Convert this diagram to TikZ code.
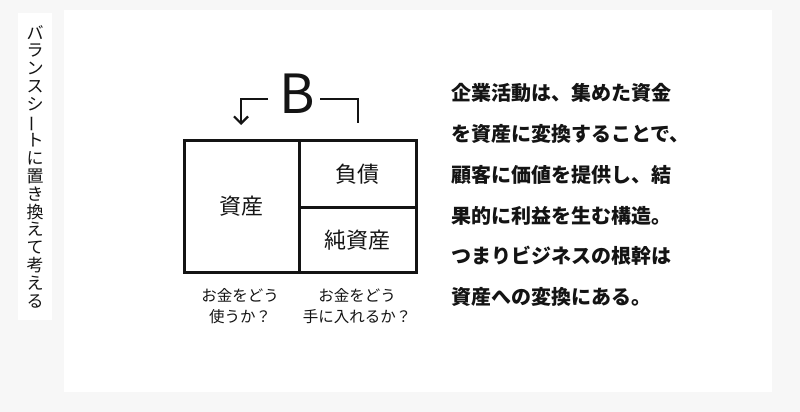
\documentclass[tikz,border=0pt]{standalone}
\usepackage{fontspec}
\usepackage{graphicx}
\usepackage{xcolor}
\usepackage{tikz}
\usetikzlibrary{arrows.meta, positioning}
\setmainfont{Noto Sans CJK JP}
\definecolor{pagegray}{RGB}{247,247,247}
\definecolor{inkblack}{RGB}{20,20,20}

\begin{document}
\begin{tikzpicture}[x=1pt, y=-1pt, every node/.style={text=inkblack, inner sep=0pt}]
            \useasboundingbox (0,0) rectangle (800,412);
            \fill[pagegray] (0,0) rectangle (800,412);
            \fill[white] (64,10) rectangle (772,392);
            % side title
            \node[fill=white, minimum width=34pt, minimum height=307pt] (sidebox) at (35,166.5) {};
            \node[align=center, font=\fontsize{17}{17.8}\selectfont] (sidetitle) at (sidebox.center) {
                バ\\ラ\\ン\\ス\\シ\\\rotatebox[origin=c]{90}{ー}\\ト\\に\\置\\き\\換\\え\\て\\考\\え\\る
            };
            % balance sheet
            \node[draw=inkblack, line width=2.6pt, minimum width=115pt, minimum height=132pt, anchor=north west,
                font=\fontsize{22}{22}\selectfont] (assets) at (183,139) {資産};
            \node[draw=inkblack, line width=2.6pt, minimum width=117pt, minimum height=67pt, anchor=north west,
                font=\fontsize{22}{22}\selectfont] (debt) at (298,139) {負債};
            \node[draw=inkblack, line width=2.6pt, minimum width=117pt, minimum height=65pt, anchor=north west,
                font=\fontsize{22}{22}\selectfont] (equity) at (298,206) {純資産};
            \node[font=\fontsize{54}{54}\selectfont] (bal) at (297,94) {B};
            \coordinate (lstart) at (268,99);
            \coordinate (ltip) at (241,125);
            \coordinate (rstart) at (320,99);
            \coordinate (rend) at (358,123);
            \draw[inkblack, line width=2.2pt, -{Straight Barb[length=7pt, width=14pt]}] (lstart) -| (ltip);
            \draw[inkblack, line width=2.2pt] (rstart) -| (rend);
            % questions
            \node[align=center, font=\fontsize{15.5}{21}\selectfont] (useq) at (240,306.5) {お金をどう\\使うか？};
            \node[align=center, font=\fontsize{15.5}{21}\selectfont] (getq) at (357,306.5) {お金をどう\\手に入れるか？};
            % message
            \node[align=left, anchor=west, font=\bfseries\fontsize{20}{40.8}\selectfont] (msg) at (451,195) {
                企業活動は、集めた資金\\
                を資産に変換することで、\\
                顧客に価値を提供し、結\\
                果的に利益を生む構造。\\
                つまりビジネスの根幹は\\
                資産への変換にある。
            };
        \end{tikzpicture}
\end{document}
